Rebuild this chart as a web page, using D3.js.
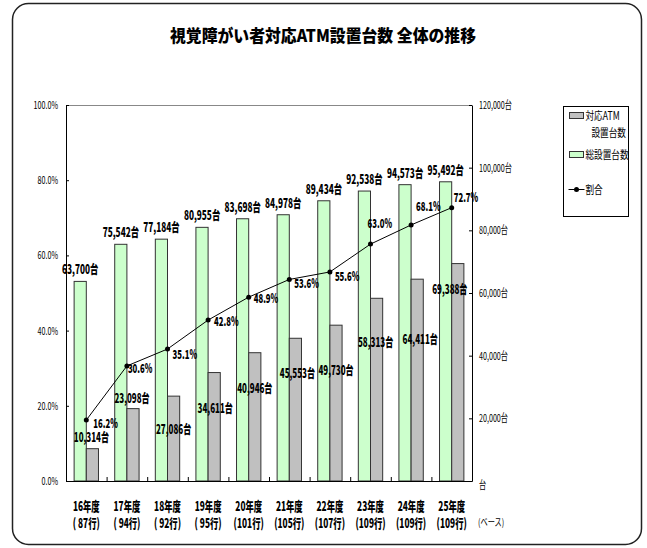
<!DOCTYPE html>
<html>
<head>
<meta charset="utf-8">
<script src="https://cdn.jsdelivr.net/npm/d3@7"></script>
<style>
  body { margin: 0; background: #fff; }
  text { font-family: "Noto Sans CJK JP", "DejaVu Sans", sans-serif; fill: #000; }
</style>
</head>
<body>
<div id="chart"></div>
<script>
// data
var years = ["16年度", "17年度", "18年度", "19年度", "20年度", "21年度", "22年度", "23年度", "24年度", "25年度"];
var banks = ["( 87行)", "( 94行)", "( 92行)", "( 95行)", "(101行)", "(105行)", "(107行)", "(109行)", "(109行)", "(109行)"];
var totalAtm = [63700, 75542, 77184, 80955, 83698, 84978, 89434, 92538, 94573, 95492];
var accessibleAtm = [10314, 23098, 27086, 34611, 40946, 45553, 49730, 58313, 64411, 69388];
var ratio = [16.2, 30.6, 35.1, 42.8, 48.9, 53.6, 55.6, 63.0, 68.1, 72.7];

// hand placed label nudges (like the manual label moves in the original)
var grayLabelNudge = [[-1, -12], [-1, -11], [0, 33], [1, 35], [0, 35], [2, 35], [0, 45], [-1, 44], [3, 60], [-8, 25]];
var pctLabelNudge = [[7, 3], [1, 2], [5, 5], [6, 1], [5, 1], [5, 4], [5, 4], [-3, -21], [5, -19], [2, -11]];

var W = 647, H = 548;
var plot = {left: 66, right: 472, top: 105, bottom: 481};

var svg = d3.select("#chart").append("svg")
    .attr("width", W)
    .attr("height", H);

// squash text horizontally, the original font is a condensed gothic
function squeeze(sel, k) {
    sel.each(function () {
        var w = this.getComputedTextLength();
        d3.select(this).attr("textLength", w * k).attr("lengthAdjust", "spacingAndGlyphs");
    });
}

// outer rounded frame
svg.append("rect")
    .attr("x", 12.5).attr("y", 3.5)
    .attr("width", 629).attr("height", 541)
    .attr("rx", 16).attr("ry", 16)
    .attr("fill", "none")
    .attr("stroke", "#222")
    .attr("stroke-width", 1.5);

svg.append("text")
    .attr("x", 323).attr("y", 42)
    .attr("text-anchor", "middle")
    .attr("font-size", 17)
    .attr("font-weight", "900")
    .text("視覚障がい者対応ATM設置台数  全体の推移")
    .attr("textLength", 306)
    .attr("lengthAdjust", "spacingAndGlyphs");

var x = d3.scaleBand().domain(years).range([plot.left, plot.right]);
var sub = d3.scaleBand().domain(["total", "atm"])
    .range([x.bandwidth() * 0.2, x.bandwidth() * 0.8]);
var yPct = d3.scaleLinear().domain([0, 100]).range([plot.bottom, plot.top]);
var yCnt = d3.scaleLinear().domain([0, 120000]).range([plot.bottom, plot.top]);

// plot top border (grey)
svg.append("line")
    .attr("x1", plot.left).attr("x2", plot.right)
    .attr("y1", plot.top + 0.5).attr("y2", plot.top + 0.5)
    .attr("stroke", "#888");

var g = svg.append("g");

// bars
g.selectAll("rect.total")
    .data(years)
    .enter().append("rect")
    .attr("class", "total")
    .attr("x", function (d) { return x(d) + sub("total"); })
    .attr("y", function (d, i) { return yCnt(totalAtm[i]); })
    .attr("width", sub.bandwidth())
    .attr("height", function (d, i) { return plot.bottom - yCnt(totalAtm[i]); })
    .attr("fill", "#ccffcc")
    .attr("stroke", "#333")
    .attr("stroke-width", 1);

g.selectAll("rect.atm")
    .data(years)
    .enter().append("rect")
    .attr("class", "atm")
    .attr("x", function (d) { return x(d) + sub("atm"); })
    .attr("y", function (d, i) { return yCnt(accessibleAtm[i]); })
    .attr("width", sub.bandwidth())
    .attr("height", function (d, i) { return plot.bottom - yCnt(accessibleAtm[i]); })
    .attr("fill", "#c0c0c0")
    .attr("stroke", "#333")
    .attr("stroke-width", 1);

// axes
var leftAxis = svg.append("g")
    .attr("transform", "translate(" + plot.left + ",0)")
    .call(d3.axisLeft(yPct)
        .tickValues([0, 20, 40, 60, 80, 100])
        .tickFormat(function (d) { return d.toFixed(1) + "%"; })
        .tickSizeInner(-3).tickSizeOuter(0).tickPadding(8));

var rightAxis = svg.append("g")
    .attr("transform", "translate(" + plot.right + ",0)")
    .call(d3.axisRight(yCnt)
        .tickValues([0, 20000, 40000, 60000, 80000, 100000, 120000])
        .tickFormat(function (d) { return d === 0 ? "台" : d3.format(",")(d) + "台"; })
        .tickSizeInner(-3).tickSizeOuter(0).tickPadding(7));

[leftAxis, rightAxis].forEach(function (a) {
    a.selectAll("text").attr("font-size", 11).attr("font-family", null);
    a.select(".domain").attr("stroke", "#000");
    squeeze(a.selectAll("text"), 0.65);
});
rightAxis.selectAll(".tick").filter(function (d) { return d === 0; })
    .select("text").attr("dy", "0.7em");

var bottomAxis = svg.append("g")
    .attr("transform", "translate(0," + plot.bottom + ")")
    .call(d3.axisBottom(x).tickSize(0).tickSizeOuter(0).tickFormat(""));
bottomAxis.select(".domain").attr("stroke", "#000");

// category separator ticks, pointing up into the plot
svg.selectAll("line.sep")
    .data(years.slice(1))
    .enter().append("line")
    .attr("class", "sep")
    .attr("x1", function (d) { return x(d) + 0.5; })
    .attr("x2", function (d) { return x(d) + 0.5; })
    .attr("y1", plot.bottom)
    .attr("y2", plot.bottom - 4)
    .attr("stroke", "#000");

// category labels
var cat = svg.append("g").selectAll("g")
    .data(years)
    .enter().append("g")
    .attr("transform", function (d) { return "translate(" + (x(d) + x.bandwidth() / 2) + ",0)"; });
cat.append("text")
    .attr("y", 511)
    .attr("text-anchor", "middle")
    .attr("font-size", 13)
    .attr("font-weight", "900")
    .text(function (d) { return d; });
cat.append("text")
    .attr("y", 528)
    .attr("text-anchor", "middle")
    .attr("font-size", 13)
    .attr("font-weight", "900")
    .text(function (d, i) { return banks[i]; });
squeeze(cat.selectAll("text"), 0.64);

var base = svg.append("text")
    .attr("x", 478).attr("y", 526)
    .attr("font-size", 10)
    .text("(ベース)");
squeeze(base, 0.72);

// ratio line
var line = d3.line()
    .x(function (d, i) { return x(years[i]) + x.bandwidth() / 2; })
    .y(function (d) { return yPct(d); });

svg.append("path")
    .datum(ratio)
    .attr("d", line)
    .attr("fill", "none")
    .attr("stroke", "#000")
    .attr("stroke-width", 1);

svg.selectAll("circle.pt")
    .data(ratio)
    .enter().append("circle")
    .attr("class", "pt")
    .attr("cx", function (d, i) { return x(years[i]) + x.bandwidth() / 2; })
    .attr("cy", function (d) { return yPct(d); })
    .attr("r", 2.5)
    .attr("fill", "#000");

// data labels
var totalLabels = svg.selectAll("text.tl")
    .data(totalAtm)
    .enter().append("text")
    .attr("class", "tl")
    .attr("x", function (d, i) { return x(years[i]) + sub("total") + sub.bandwidth() / 2; })
    .attr("y", function (d) { return yCnt(d) - 7; })
    .attr("text-anchor", "middle")
    .attr("font-size", 12.5)
    .attr("font-weight", "900")
    .text(function (d) { return d3.format(",")(d) + "台"; });
squeeze(totalLabels, 0.66);

var grayLabels = svg.selectAll("text.gl")
    .data(accessibleAtm)
    .enter().append("text")
    .attr("class", "gl")
    .attr("x", function (d, i) { return x(years[i]) + sub("atm") + sub.bandwidth() / 2 + grayLabelNudge[i][0]; })
    .attr("y", function (d, i) { return yCnt(d) + grayLabelNudge[i][1] + 5; })
    .attr("text-anchor", "middle")
    .attr("font-size", 12.5)
    .attr("font-weight", "900")
    .text(function (d) { return d3.format(",")(d) + "台"; });
squeeze(grayLabels, 0.64);

var pctLabels = svg.selectAll("text.pl")
    .data(ratio)
    .enter().append("text")
    .attr("class", "pl")
    .attr("x", function (d, i) { return x(years[i]) + x.bandwidth() / 2 + pctLabelNudge[i][0]; })
    .attr("y", function (d, i) { return yPct(d) + pctLabelNudge[i][1] + 5; })
    .attr("font-size", 12.5)
    .attr("font-weight", "900")
    .text(function (d) { return d.toFixed(1) + "%"; });
squeeze(pctLabels, 0.62);

// legend
var lg = svg.append("g").attr("transform", "translate(563.5,106.5)");
lg.append("rect")
    .attr("width", 65).attr("height", 110)
    .attr("fill", "#fff").attr("stroke", "#000");
lg.append("rect")
    .attr("x", 6).attr("y", 6).attr("width", 14).attr("height", 6)
    .attr("fill", "#c0c0c0").attr("stroke", "#333");
lg.append("rect")
    .attr("x", 6).attr("y", 45).attr("width", 14).attr("height", 6)
    .attr("fill", "#ccffcc").attr("stroke", "#333");
lg.append("line")
    .attr("x1", 5).attr("x2", 21).attr("y1", 83).attr("y2", 83)
    .attr("stroke", "#000");
lg.append("circle")
    .attr("cx", 13).attr("cy", 83).attr("r", 2.5).attr("fill", "#000");
var legendText = [["対応ATM", 13], ["設置台数", 30], ["総設置台数", 52], ["割合", 87]];
var lt = lg.selectAll("text.lt")
    .data(legendText)
    .enter().append("text")
    .attr("class", "lt")
    .attr("x", 22)
    .attr("y", function (d) { return d[1]; })
    .attr("font-size", 11.5)
    .text(function (d) { return d[0]; });
lt.filter(function (d) { return d[0] === "設置台数"; }).attr("x", 28);
squeeze(lt, 0.75);
</script>
</body>
</html>
